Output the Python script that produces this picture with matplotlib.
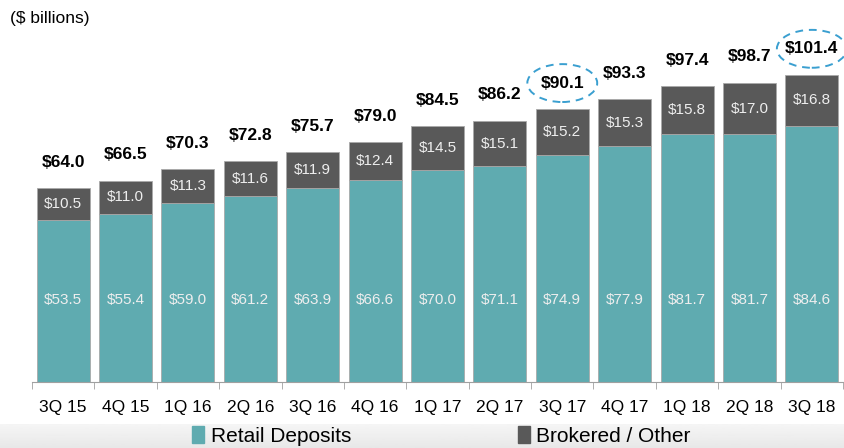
import matplotlib
matplotlib.use("Agg")
import matplotlib.pyplot as plt
import numpy as np
from matplotlib.patches import Ellipse, Patch

quarters = ["3Q 15", "4Q 15", "1Q 16", "2Q 16", "3Q 16", "4Q 16", "1Q 17",
            "2Q 17", "3Q 17", "4Q 17", "1Q 18", "2Q 18", "3Q 18"]
retail = [53.5, 55.4, 59.0, 61.2, 63.9, 66.6, 70.0, 71.1, 74.9, 77.9, 81.7, 81.7, 84.6]
brokered = [10.5, 11.0, 11.3, 11.6, 11.9, 12.4, 14.5, 15.1, 15.2, 15.3, 15.8, 17.0, 16.8]
totals = [64.0, 66.5, 70.3, 72.8, 75.7, 79.0, 84.5, 86.2, 90.1, 93.3, 97.4, 98.7, 101.4]
circled = [8, 12]

teal = "#5FABB0"
dark = "#595959"

plt.rcParams["font.family"] = ["Liberation Sans", "DejaVu Sans"]

fig = plt.figure(figsize=(8.44, 4.48), dpi=100)

# faint grey band behind the legend
bg = fig.add_axes([0, 0, 1, 24 / 448], zorder=-1)
bg.imshow(np.linspace(0.96, 0.91, 20).reshape(-1, 1), cmap="gray", vmin=0, vmax=1,
          aspect="auto", extent=(0, 1, 0, 1))
bg.axis("off")

ax = fig.add_axes([32 / 844, 66 / 448, 811 / 844, 382 / 448])
ax.patch.set_alpha(0)
x = list(range(len(quarters)))

ax.bar(x, retail, width=0.85, color=teal, edgecolor="#a9a9a9", linewidth=0.6)
ax.bar(x, brokered, bottom=retail, width=0.85, color=dark, edgecolor="#a9a9a9", linewidth=0.6)

for i in x:
    ax.text(i, 27, "${:.1f}".format(retail[i]), ha="center", va="center",
            color="#eeeeee", fontsize=11)
    ax.text(i, retail[i] + brokered[i] / 2, "${:.1f}".format(brokered[i]),
            ha="center", va="center", color="#eeeeee", fontsize=11)
    ax.text(i, totals[i] + 8.5, "${:.1f}".format(totals[i]), ha="center", va="center",
            color="black", fontsize=12.5, fontweight="bold")

for i in circled:
    e = Ellipse((i, totals[i] + 8.5), 1.12, 12.5, fill=False, edgecolor="#3A9FD0",
                linestyle=(0, (4, 3)), linewidth=1.4, clip_on=False)
    ax.add_patch(e)

ax.set_xlim(-0.5, len(quarters) - 0.5)
ax.set_ylim(0, 126)
ax.set_yticks([])
for s in ["top", "right", "left"]:
    ax.spines[s].set_visible(False)
ax.spines["bottom"].set_color("#a0a0a0")
ax.set_xticks(x)
ax.set_xticklabels(quarters, fontsize=12.5)
ax.tick_params(axis="x", which="major", length=0, pad=13)
ax.set_xticks([i - 0.5 for i in range(len(quarters) + 1)], minor=True)
ax.tick_params(axis="x", which="minor", length=5, color="#a0a0a0")

fig.text(10 / 844, 1 - 18 / 448, "($ billions)", fontsize=12.5, va="center")

handles = [Patch(color=teal, label="Retail Deposits"),
           Patch(color=dark, label="Brokered / Other")]
fig.legend(handles=handles, loc="center", bbox_to_anchor=(0.523, 1 - 436 / 448),
           ncol=2, frameon=False, fontsize=15,
           handlelength=0.6, handleheight=0.9, handletextpad=0.3, columnspacing=8)

fig.savefig("out.png", dpi=100)
